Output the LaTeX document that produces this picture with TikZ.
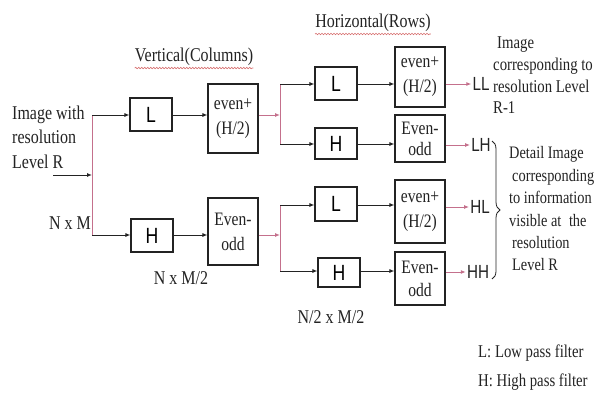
\documentclass[tikz,border=0pt]{standalone}
\usepackage{fontspec}
\setmainfont{Liberation Serif}
\newfontfamily\tnr[FakeStretch=0.82]{Liberation Serif}
\newfontfamily\asf[FakeStretch=0.8]{Liberation Sans}
\usetikzlibrary{arrows.meta,decorations.pathreplacing,decorations.pathmorphing,calc}
\definecolor{pk}{RGB}{196,112,140}
\definecolor{ln}{RGB}{35,35,35}
\definecolor{sq}{RGB}{215,110,110}
\begin{document}
\begin{tikzpicture}[x=1pt,y=-1pt,
 box/.style={draw=ln,line width=1.1pt,minimum width=42pt,minimum height=33pt,inner sep=0pt,font=\asf\fontsize{22}{22}\selectfont},
 ebox/.style={draw=ln,line width=1.1pt,minimum width=50pt,inner sep=0pt,align=center,text=ln,font=\tnr\fontsize{19}{25}\selectfont},
 txt/.style={inner sep=0pt,text=ln,font=\tnr\fontsize{19.5}{24.5}\selectfont},
 rtxt/.style={inner sep=0pt,text=ln,align=left,anchor=west,font=\tnr\fontsize{18}{21.7}\selectfont},
 rtxtb/.style={rtxt,font=\tnr\fontsize{17.5}{22.4}\selectfont},
 lab/.style={inner sep=1pt,text=ln,font=\asf\fontsize{19}{19}\selectfont},
 blk/.style={draw=ln,line width=1pt,-{Latex[length=5pt,width=4pt]}},
 pkl/.style={draw=pk,line width=1pt},
 pka/.style={pkl,-{Latex[length=5pt,width=4pt]}},
 squig/.style={draw=sq,line width=0.6pt,decorate,decoration={snake,segment length=3pt,amplitude=0.7pt}}
]
\useasboundingbox[fill=white] (0,0) rectangle (597,394);

% boxes
\node[box] (L1) at (151,114.5) {L};
\node[box] (H1) at (152,235.5) {H};
\node[ebox,minimum height=69pt] (E1) at (233,118.5) {even+\\(H/2)};
\node[ebox,minimum height=67pt] (O1) at (233,231.5) {Even-\\odd};
\node[box] (L2) at (336,83.5) {L};
\node[box,minimum height=31pt] (H2) at (336,143.5) {H};
\node[box,minimum height=34pt] (L3) at (336,204) {L};
\node[box,minimum height=29pt] (H3) at (339,272.5) {H};
\node[ebox,minimum height=60pt] (E2) at (420,77) {even+\\(H/2)};
\node[ebox,minimum height=47pt] (O2) at (420,138.5) {Even-\\[-4pt]odd};
\node[ebox,minimum height=63pt] (E3) at (420,211.5) {even+\\(H/2)};
\node[ebox,minimum height=53pt] (O3) at (420,278.5) {Even-\\[-2pt]odd};

% output labels
\node[lab] (LL) at (481,84) {LL};
\node[lab] (LH) at (481,145) {LH};
\node[lab] (HL) at (480,207) {HL};
\node[lab] (HH) at (478,272) {HH};

% texts
\node[txt,anchor=west,align=left] (src) at (12,137) {Image with\\resolution\\Level R};
\node[txt] (nm) at (70,223) {N x M};
\node[txt] (nm2) at (181,278) {N x M/2};
\node[txt] (nm3) at (331,317) {N/2 x M/2};
\node[txt] (vt) at (194,57) {Vertical(Columns)};
\node[txt] (ht) at (373,23) {Horizontal(Rows)};
\draw[squig] ([yshift=-2pt]vt.south west) -- ([yshift=-2pt]vt.south east);
\draw[squig] ([yshift=-2pt]ht.south west) -- ([yshift=-2pt]ht.south east);
\node[rtxt] (r1) at (493,75.5) {\hspace{4pt}Image\\corresponding to\\resolution Level\\R-1};
\node[rtxtb] (r2) at (509,209) {Detail Image\\\hspace{3pt}corresponding\\to information\\visible at\hspace{4pt} the\\\hspace{3pt}resolution\\\hspace{3pt}Level R};
\node[rtxt] (lg1) at (478,353) {L: Low pass filter};
\node[rtxt] (lg2) at (478,382) {H: High pass filter};

% stage 1
\coordinate (in) at (53,175);
\coordinate (v1t) at (92,115);
\coordinate (v1b) at (92,235);
\draw[pkl] (v1t) -- (v1b);
\draw[blk] (in) -- (in -| v1t);
\draw[blk] (v1t) -- (v1t -| L1.west);
\draw[blk] (v1b) -- (v1b -| H1.west);
\draw[blk] (v1t -| L1.east) -- (v1t -| E1.west);
\draw[blk] (v1b -| H1.east) -- (v1b -| O1.west);

% stage 2
\coordinate (v2t) at (280,84);
\coordinate (v2m) at (280,115);
\coordinate (v2b) at (280,144);
\coordinate (v3t) at (280,205);
\coordinate (v3m) at (280,235);
\coordinate (v3b) at (280,271);
\draw[pkl] (v2t) -- (v2b);
\draw[pkl] (v3t) -- (v3b);
\draw[pka] (v2m -| E1.east) -- (v2m);
\draw[pka] (v3m -| O1.east) -- (v3m);
\draw[blk] (v2t) -- (v2t -| L2.west);
\draw[blk] (v2b) -- (v2b -| H2.west);
\draw[blk] (v3t) -- (v3t -| L3.west);
\draw[blk] (v3b) -- (v3b -| H3.west);
\draw[blk] (v2t -| L2.east) -- (v2t -| E2.west);
\draw[blk] (v2b -| H2.east) -- (v2b -| O2.west);
\draw[blk] (v3t -| L3.east) -- (v3t -| E3.west);
\draw[blk] (v3b -| H3.east) -- (v3b -| O3.west);

% outputs
\draw[pka] (LL.west -| E2.east) -- (LL.west);
\draw[pka] (LH.west -| O2.east) -- (LH.west);
\draw[pka] (HL.west -| E3.east) -- (HL.west);
\draw[pka] (HH.west -| O3.east) -- (HH.west);

% brace
\coordinate (b1) at (492,141);
\coordinate (b2) at (492,279);
\draw[ln,line width=0.8pt,decorate,decoration={brace,amplitude=8pt}] (b1) -- (b2);
\end{tikzpicture}
\end{document}
